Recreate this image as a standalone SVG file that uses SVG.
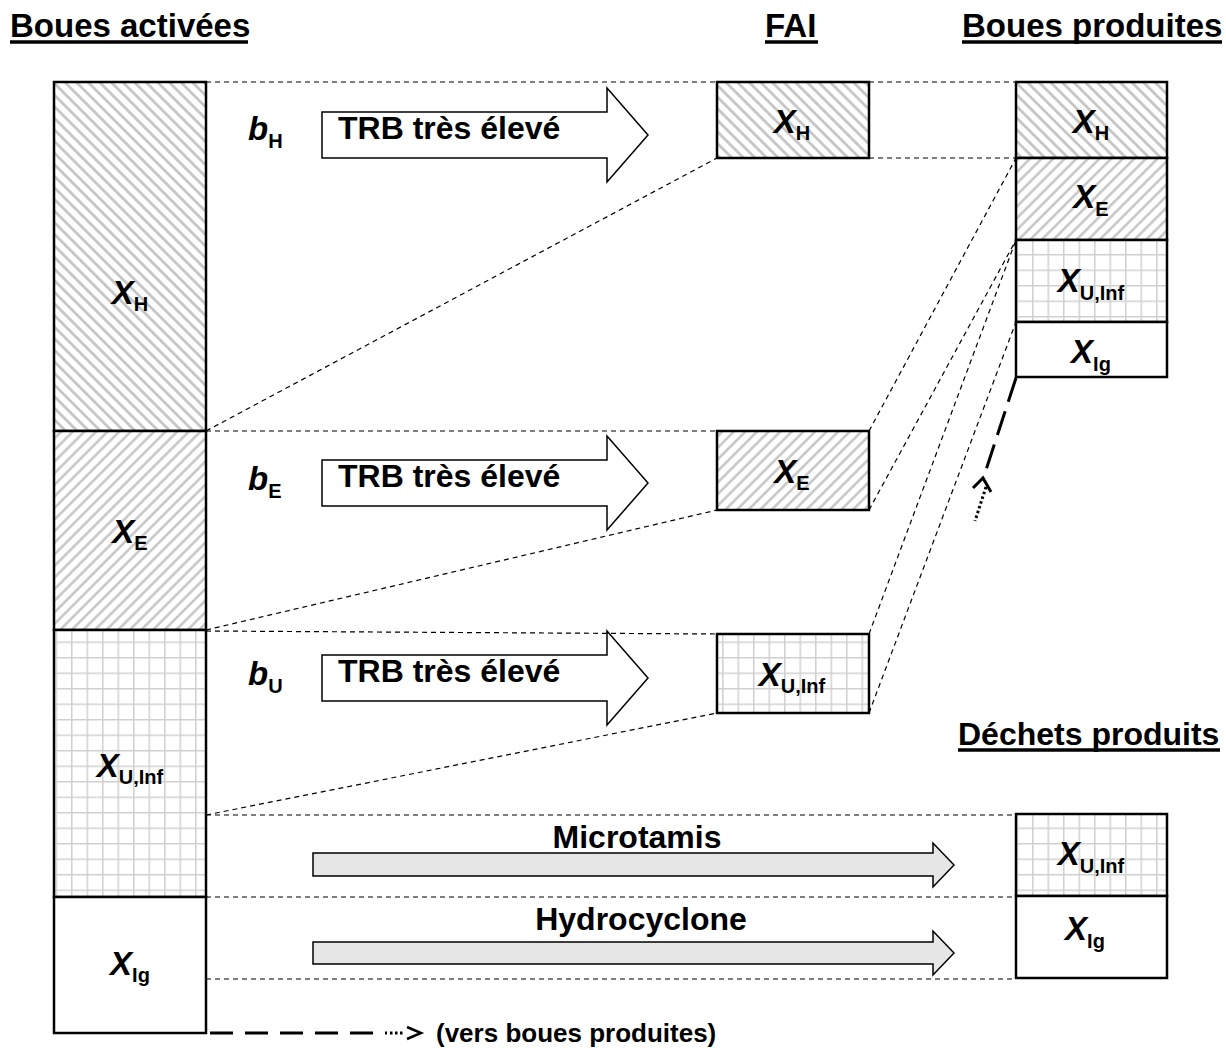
<svg xmlns="http://www.w3.org/2000/svg" width="1226" height="1048" viewBox="0 0 1226 1048">
<defs>
<style>
text{font-family:"Liberation Sans",Arial,sans-serif;font-weight:bold;fill:#000}
.hd{font-size:33px}
.lbl{font-size:32px}
.x{font-size:33px;font-style:italic}
.sub{font-size:20px;font-style:normal}
.box{stroke:#000;stroke-width:2.5}
.dl{fill:none;stroke:#000;stroke-width:1.2;stroke-dasharray:5 4}
.warr{fill:#fff;stroke:#000;stroke-width:1.5}
.garr{fill:#e6e6e6;stroke:#000;stroke-width:1.5}
.ul{stroke:#000;stroke-width:3.5}
</style>
<pattern id="hH" patternUnits="userSpaceOnUse" width="8.2" height="8.2" patternTransform="rotate(-45)">
<rect width="8.2" height="8.2" fill="#fff"/>
<line x1="4.1" y1="-1" x2="4.1" y2="9.2" stroke="#c6c6c6" stroke-width="2.8"/>
</pattern>
<pattern id="hE" patternUnits="userSpaceOnUse" width="8.2" height="8.2" patternTransform="rotate(45)">
<rect width="8.2" height="8.2" fill="#fff"/>
<line x1="4.1" y1="-1" x2="4.1" y2="9.2" stroke="#c8c8c8" stroke-width="2.6"/>
</pattern>
<pattern id="grid" patternUnits="userSpaceOnUse" width="15.5" height="15.5" x="9" y="6">
<rect width="15.5" height="15.5" fill="#fff"/>
<path d="M0,0.5 H15.5 M0.5,0 V15.5" stroke="#d0d0d0" stroke-width="2"/>
</pattern>
</defs>
<rect width="1226" height="1048" fill="#fff"/>

<g id="headers">
<text class="hd" x="10" y="37">Boues activées</text>
<line class="ul" x1="10" y1="42" x2="248" y2="42"/>
<text class="hd" x="765" y="37">FAI</text>
<line class="ul" x1="765" y1="42" x2="818" y2="42"/>
<text class="hd" x="962" y="37">Boues produites</text>
<line class="ul" x1="962" y1="42" x2="1222" y2="42"/>
<text class="lbl" x="958" y="745">Déchets produits</text>
<line class="ul" x1="958" y1="750" x2="1220" y2="750"/>
</g>

<g id="connectors">
<path class="dl" d="M206,82 H717 M869,82 H1016 M869,158 H1016 M206,431 H717 M206,631 L717,634 M206,815 H1016 M206,897 H1016 M206,979 H1016"/>
<path class="dl" d="M206,431 L717,158 M206,630 L717,510 M206,815 L717,713 M869,431 L1016,158 M869,510 L1016,240 M869,634 L1016,240 M869,713 L1016,322"/>
<line x1="1016" y1="378" x2="986" y2="470" stroke="#000" stroke-width="3" stroke-dasharray="25 10"/>
<line x1="986" y1="487" x2="975" y2="521" stroke="#000" stroke-width="3" stroke-dasharray="2.5 2.5"/>
<polyline points="973,488 983,478 991,492" fill="none" stroke="#000" stroke-width="3"/>
<line x1="210" y1="1033" x2="387" y2="1033" stroke="#000" stroke-width="3" stroke-dasharray="23 12"/>
<line x1="390" y1="1033" x2="404" y2="1033" stroke="#000" stroke-width="3" stroke-dasharray="2.5 2.5"/>
<polyline points="407,1027 421,1033 407,1039" fill="none" stroke="#000" stroke-width="2.5"/>
<text x="436" y="1042" style="font-size:26px">(vers boues produites)</text>
</g>

<g id="arrows">
<g id="arr-h">
<path class="warr" d="M322,112 H607 V88 L648,135 L607,182 V158 H322 Z"/>
<text class="lbl" x="338" y="139">TRB très élevé</text>
<text class="x" x="248" y="140">b<tspan class="sub" dy="8">H</tspan></text>
</g>
<g id="arr-e">
<path class="warr" d="M322,460 H607 V436 L648,483 L607,530 V506 H322 Z"/>
<text class="lbl" x="338" y="487">TRB très élevé</text>
<text class="x" x="248" y="490">b<tspan class="sub" dy="8">E</tspan></text>
</g>
<g id="arr-u">
<path class="warr" d="M322,655 H607 V631 L648,678 L607,725 V701 H322 Z"/>
<text class="lbl" x="338" y="682">TRB très élevé</text>
<text class="x" x="248" y="685">b<tspan class="sub" dy="8">U</tspan></text>
</g>
<g id="arr-micro">
<path class="garr" d="M313,853 H933 V843 L954,865 L933,887 V876 H313 Z"/>
<text class="lbl" x="637" y="848" text-anchor="middle">Microtamis</text>
</g>
<g id="arr-hydro">
<path class="garr" d="M313,942 H933 V931 L954,953 L933,975 V964 H313 Z"/>
<text class="lbl" x="641" y="930" text-anchor="middle">Hydrocyclone</text>
</g>
</g>

<g id="ba">
<rect class="box" x="54" y="82" width="152" height="349" fill="url(#hH)"/>
<rect class="box" x="54" y="431" width="152" height="199" fill="url(#hE)"/>
<rect class="box" x="54" y="630" width="152" height="267" fill="url(#grid)"/>
<rect class="box" x="54" y="897" width="152" height="136" fill="#fff"/>
<text class="x" x="130" y="304" text-anchor="middle">X<tspan class="sub" dy="7">H</tspan></text>
<text class="x" x="130" y="543" text-anchor="middle">X<tspan class="sub" dy="7">E</tspan></text>
<text class="x" x="130" y="777" text-anchor="middle">X<tspan class="sub" dy="7">U,Inf</tspan></text>
<text class="x" x="130" y="975" text-anchor="middle">X<tspan class="sub" dy="7">Ig</tspan></text>
</g>

<g id="fai-xh">
<rect class="box" x="717" y="82" width="152" height="76" fill="url(#hH)"/>
<text class="x" x="792" y="133" text-anchor="middle">X<tspan class="sub" dy="7">H</tspan></text>
</g>
<g id="fai-xe">
<rect class="box" x="717" y="431" width="152" height="79" fill="url(#hE)"/>
<text class="x" x="792" y="483" text-anchor="middle">X<tspan class="sub" dy="7">E</tspan></text>
</g>
<g id="fai-xu">
<rect class="box" x="717" y="634" width="152" height="79" fill="url(#grid)"/>
<text class="x" x="792" y="686" text-anchor="middle">X<tspan class="sub" dy="7">U,Inf</tspan></text>
</g>

<g id="bp">
<rect class="box" x="1016" y="82" width="151" height="76" fill="url(#hH)"/>
<rect class="box" x="1016" y="158" width="151" height="82" fill="url(#hE)"/>
<rect class="box" x="1016" y="240" width="151" height="82" fill="url(#grid)"/>
<rect class="box" x="1016" y="322" width="151" height="55" fill="#fff"/>
<text class="x" x="1091" y="133" text-anchor="middle">X<tspan class="sub" dy="7">H</tspan></text>
<text class="x" x="1091" y="208" text-anchor="middle">X<tspan class="sub" dy="8">E</tspan></text>
<text class="x" x="1091" y="292" text-anchor="middle">X<tspan class="sub" dy="8">U,Inf</tspan></text>
<text class="x" x="1091" y="363" text-anchor="middle">X<tspan class="sub" dy="8">Ig</tspan></text>
</g>

<g id="dp">
<rect class="box" x="1016" y="814" width="151" height="82" fill="url(#grid)"/>
<rect class="box" x="1016" y="896" width="151" height="82" fill="#fff"/>
<text class="x" x="1091" y="865" text-anchor="middle">X<tspan class="sub" dy="8">U,Inf</tspan></text>
<text class="x" x="1085" y="940" text-anchor="middle">X<tspan class="sub" dy="8">Ig</tspan></text>
</g>
</svg>
